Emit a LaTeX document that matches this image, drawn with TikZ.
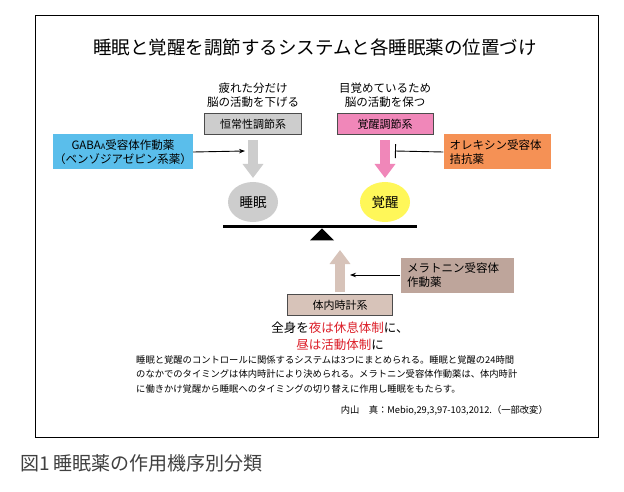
\documentclass[tikz,border=0pt]{standalone}
\usepackage{fontspec}
\setmainfont{Noto Sans CJK JP}
\usetikzlibrary{arrows.meta,shapes.geometric}
\definecolor{gabab}{RGB}{90,190,235}
\definecolor{orx}{RGB}{245,145,85}
\definecolor{pinkb}{RGB}{240,135,185}
\definecolor{grayb}{RGB}{205,205,205}
\definecolor{tanb}{RGB}{190,165,155}
\definecolor{tanl}{RGB}{215,195,185}
\definecolor{redt}{RGB}{220,30,40}
\begin{document}
\begin{tikzpicture}[x=1pt,y=-1pt,
  lbl/.style={font=\fontsize{11.5}{14.5}\selectfont,align=center,inner sep=0},
  sysbox/.style={draw=black!70,line width=0.6pt,minimum height=21pt,font=\fontsize{11}{13}\selectfont,inner sep=0},
  drug/.style={font=\fontsize{11.5}{14}\selectfont,inner sep=0,align=left},
  fat/.style={-{Triangle[width=20pt,length=14pt]},line width=10pt},
  thin/.style={-{Stealth[length=6pt]},line width=0.9pt}]
\useasboundingbox (0,0) rectangle (624,492);
\fill[white] (0,0) rectangle (624,492);
\draw[line width=0.8pt] (35,15) rectangle (598,437);
\node (title) at (315,47) {\fontsize{18.5}{22}\selectfont 睡眠と覚醒を調節するシステムと各睡眠薬の位置づけ};
\node[lbl] (lt) at (253,95) {疲れた分だけ\\脳の活動を下げる};
\node[lbl] (rt) at (385,95) {目覚めているため\\脳の活動を保つ};
\node[sysbox,fill=grayb,minimum width=97pt] (homeo) at (253,124) {恒常性調節系};
\node[sysbox,fill=pinkb,minimum width=96pt] (wake) at (385,124) {覚醒調節系};
\node[drug,fill=gabab,minimum width=140pt,minimum height=35pt,align=center] (gaba) at (123,152) {GABA{\fontsize{7.5}{8}\selectfont A}受容体作動薬\\（ベンゾジアゼピン系薬）};
\node[drug,fill=orx,minimum width=107pt,minimum height=35pt,text width=95pt] (orex) at (497,152) {オレキシン受容体\\拮抗薬};
\node[ellipse,fill=grayb,minimum width=50pt,minimum height=40pt,font=\fontsize{13.5}{15}\selectfont] (sleep) at (253,202) {睡眠};
\node[ellipse,fill=yellow!65,minimum width=50pt,minimum height=40pt,font=\fontsize{13.5}{15}\selectfont] (awake) at (385,202) {覚醒};
\coordinate (ga) at (253,140); \coordinate (gb) at (253,178);
\coordinate (pa) at (385,140); \coordinate (pb) at (385,178);
\draw[fat,draw=grayb,fill=grayb] (ga) -- (gb);
\draw[fat,draw=pinkb,fill=pinkb] (pa) -- (pb);
\coordinate (gt) at (245,151); \coordinate (ot) at (395,151);
\draw[thin] (gaba.east) -- (gt);
\draw[line width=0.9pt,-{Bar[width=14pt]}] (orex.west) -- (ot);
\coordinate (bl) at (223,226); \coordinate (br) at (417,226);
\draw[line width=3pt] (bl) -- (br);
\node[isosceles triangle,shape border rotate=90,fill=black,isosceles triangle apex angle=90,minimum height=12pt,inner sep=0,anchor=apex] (fulc) at (322,228) {};
\node[sysbox,fill=tanl,minimum width=105pt] (clock) at (340,305) {体内時計系};
\coordinate (ca) at (340,292); \coordinate (cb) at (340,250);
\draw[fat,draw=tanl,fill=tanl] (ca) -- (cb);
\node[drug,fill=tanb,minimum width=113pt,minimum height=35pt,text width=100pt] (mel) at (457,275) {メラトニン受容体\\作動薬};
\coordinate (mt) at (350,275);
\draw[thin] (mel.west) -- (mt);
\node[lbl,font=\fontsize{12.5}{16.5}\selectfont] (night) at (340,336) {全身を\textcolor{redt}{夜は休息体制}に、\\\textcolor{redt}{昼は活動体制}に};
\node[font=\fontsize{9.3}{14.5}\selectfont,align=left,inner sep=0,anchor=north west] (para) at (136,355) {睡眠と覚醒のコントロールに関係するシステムは3つにまとめられる。睡眠と覚醒の24時間\\のなかでのタイミングは体内時計により決められる。メラトニン受容体作動薬は、体内時計\\に働きかけ覚醒から睡眠へのタイミングの切り替えに作用し睡眠をもたらす。};
\node[font=\fontsize{9.3}{11}\selectfont,anchor=east,inner sep=0] (cite) at (548,410) {内山\quad 真：Mebio,29,3,97-103,2012.（一部改変）};
\node[font=\fontsize{19}{22}\selectfont,text=black!75,anchor=west,inner sep=0] (cap) at (20,463) {図1 睡眠薬の作用機序別分類};
\end{tikzpicture}
\end{document}
